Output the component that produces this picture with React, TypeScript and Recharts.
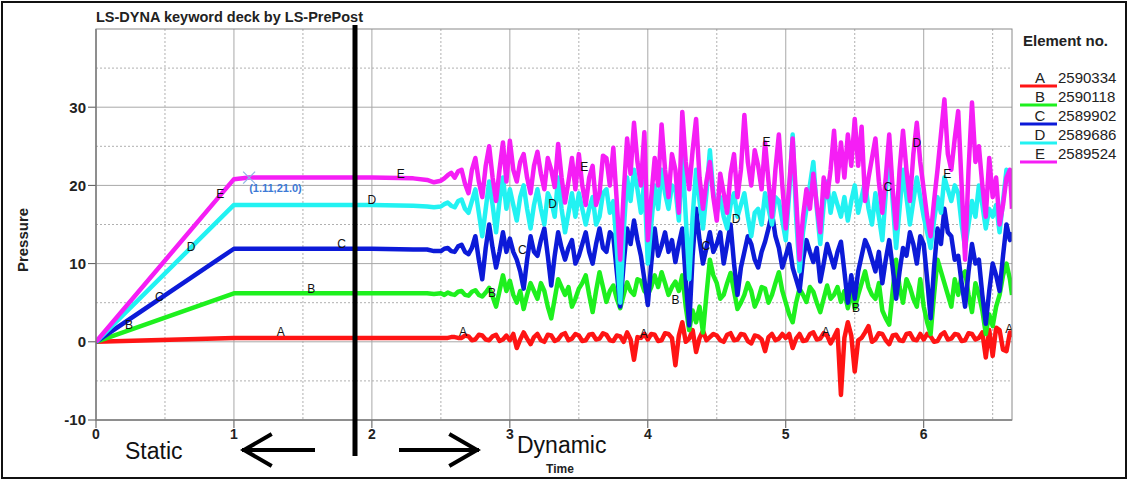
import React from 'react';
import {
  ComposedChart, Line, Scatter, XAxis, YAxis, CartesianGrid, ReferenceDot,
} from 'recharts';

// time axis: static ramp, then the dynamic part read every 0.025
const time = [
  0, 1, 1.11, 2, 2.3, 2.4, 2.45,
  2.5, 2.525, 2.55, 2.575, 2.6, 2.625, 2.65, 2.675, 2.7, 2.725, 2.75, 2.775, 2.8, 2.825, 2.85, 2.875, 2.9, 2.925, 2.95, 2.975,
  3, 3.025, 3.05, 3.075, 3.1, 3.125, 3.15, 3.175, 3.2, 3.225, 3.25, 3.275, 3.3, 3.325, 3.35, 3.375, 3.4, 3.425, 3.45, 3.475,
  3.5, 3.525, 3.55, 3.575, 3.6, 3.625, 3.65, 3.675, 3.7, 3.725, 3.75, 3.775, 3.8, 3.825, 3.85, 3.875, 3.9, 3.925, 3.95, 3.975,
  4, 4.025, 4.05, 4.075, 4.1, 4.125, 4.15, 4.175, 4.2, 4.225, 4.25, 4.275, 4.3, 4.325, 4.35, 4.375, 4.4, 4.425, 4.45, 4.475,
  4.5, 4.525, 4.55, 4.575, 4.6, 4.625, 4.65, 4.675, 4.7, 4.725, 4.75, 4.775, 4.8, 4.825, 4.85, 4.875, 4.9, 4.925, 4.95, 4.975,
  5, 5.025, 5.05, 5.075, 5.1, 5.125, 5.15, 5.175, 5.2, 5.225, 5.25, 5.275, 5.3, 5.325, 5.35, 5.375, 5.4, 5.425, 5.45, 5.475,
  5.5, 5.525, 5.55, 5.575, 5.6, 5.625, 5.65, 5.675, 5.7, 5.725, 5.75, 5.775, 5.8, 5.825, 5.85, 5.875, 5.9, 5.925, 5.95, 5.975,
  6, 6.025, 6.05, 6.075, 6.1, 6.125, 6.15, 6.175, 6.2, 6.225, 6.25, 6.275, 6.3, 6.325, 6.35, 6.375, 6.4, 6.425, 6.45, 6.475,
  6.5, 6.525, 6.55, 6.575, 6.6, 6.625, 6.64,
];

const elemA = [
  0, 0.5, 0.5, 0.5, 0.5, 0.5, 0.5,
  0.5, 0.5, 0.5, 0.6, 0.6, 0.5, 0.5, 0.8, 0.7, 0.2, 0.3, 0.9, 0.8, 0.3, 0.2, 0.7, 0.9, 0.1, 0.3, 0.8,
  0.2, 1.0, -0.8, 0.3, 1.2, 0.4, -0.3, 0.6, 1.0, 0.2, 0.0, 0.9, 0.8, 0.1, 0.3, 0.9, 1.1, 0.2, 0.4, 1.0,
  0.8, 0.1, 0.2, 0.9, 1.0, 0.3, 0.4, 1.1, 0.9, 0.2, 0.1, 0.8, 0.7, 0.0, 1.2, 0.3, -2.3, 0.6, 0.5, 1.0,
  0.3, 1.0, 0.9, 0.1, 0.2, 1.1, 1.0, 0.5, -3.0, 0.8, 2.5, 0.0, 0.4, 1.5, -1.3, 0.5, 1.4, 0.2, 0.6, 1.0,
  0.8, 0.2, 0.0, 0.9, 1.1, 0.2, 0.3, 1.0, 0.9, 0.1, -0.2, 0.8, 0.7, 0.3, -1.2, 0.6, 1.0, 0.2, 0.4, 1.0,
  0.5, 1.0, -0.8, 0.4, 1.0, 0.1, 0.2, 1.0, 1.2, 0.3, 0.4, 1.1, 0.8, -0.2, 0.6, 1.5, -6.8, 0.5, 2.5, 0.8,
  -3.8, 0.2, 0.5, 1.2, 2.0, 0.0, 0.3, 1.1, 1.0, 0.2, -0.3, 0.8, 0.9, 0.2, 0.1, 1.0, 1.1, 0.3, 0.2, 1.0,
  0.3, 1.0, 0.7, 0.0, 0.1, 0.9, 1.2, 0.3, 0.4, 1.0, 0.9, 0.1, 0.2, 1.1, 1.0, 0.3, 0.5, 1.2, -2.0, 1.5,
  -1.8, 1.8, 1.5, -1.0, -1.2, 1.2, 0.6,
];

const elemB = [
  0, 6.2, 6.2, 6.2, 6.2, 6.2, 6.1,
  6.2, 6.0, 6.3, 6.1, 6.0, 6.4, 6.5, 6.0, 5.9, 6.4, 6.6, 6.0, 5.8, 6.3, 6.9, 5.8, 4.5, 6.5, 8.5, 6.5,
  7.8, 6.0, 5.0, 6.5, 4.2, 6.0, 7.5, 6.5, 5.5, 7.5, 6.5, 4.5, 3.0, 5.5, 8.0, 7.0, 6.0, 7.0, 4.5, 5.5,
  6.8, 7.5, 8.5, 6.0, 3.8, 6.5, 8.9, 7.0, 5.1, 6.5, 7.2, 5.5, 4.3, 6.0, 7.6, 6.5, 6.0, 8.0, 7.8, 6.5,
  6.0, 7.0, 8.5, 7.0, 8.9, 7.5, 6.0, 7.0, 7.7, 6.5, 8.5, 4.5, 1.5, 4.0, 2.5, 4.5, 1.2, 6.0, 10.5, 8.5,
  7.5, 5.5, 6.0, 7.5, 8.8, 6.5, 4.2, 5.0, 6.0, 7.5, 6.5, 4.5, 5.5, 7.0, 6.8, 5.0, 6.0, 7.5, 8.9, 6.5,
  5.0, 3.5, 2.5, 5.0, 6.8, 6.0, 5.1, 7.0, 6.4, 5.0, 3.8, 5.5, 7.2, 5.5, 6.0, 7.0, 5.1, 6.5, 4.3, 6.5,
  4.3, 6.0, 7.5, 9.0, 7.0, 6.0, 5.5, 7.5, 4.0, 3.0, 2.2, 6.5, 10.5, 7.0, 5.0, 8.0, 7.0, 5.5, 4.5, 8.0,
  4.5, 2.5, 1.0, 6.0, 10.5, 9.0, 7.5, 6.0, 4.5, 8.0, 6.0, 8.5, 9.0, 6.0, 3.8, 7.5, 6.0, 4.0, 1.0, 3.5,
  2.0, 4.5, 6.0, 8.5, 10.0, 8.0, 6.0,
];

const elemC = [
  0, 11.9, 11.9, 11.9, 11.8, 11.8, 11.6,
  11.6, 11.9, 12.0, 11.6, 11.5, 12.2, 12.4, 11.5, 11.2, 12.0, 13.5, 10.5, 8.0, 12.0, 15.0, 12.0, 9.5, 11.5, 14.0, 11.5,
  13.2, 11.5, 10.5, 9.0, 6.8, 10.5, 13.5, 11.5, 11.0, 13.0, 14.5, 11.0, 7.2, 11.0, 14.0, 12.0, 10.5, 12.0, 13.0, 10.0,
  11.0, 12.5, 14.0, 11.5, 10.0, 12.5, 14.5, 12.0, 11.5, 14.0, 13.5, 9.0, 4.5, 10.0, 14.5, 12.5, 15.5, 13.0, 11.0, 8.0,
  4.7, 10.0, 14.5, 11.0, 12.3, 14.0, 11.5, 13.0, 10.2, 12.5, 14.5, 8.0, 2.1, 11.0, 17.0, 13.0, 10.0, 12.0, 14.0, 11.5,
  12.5, 14.0, 10.0, 12.5, 15.0, 10.0, 6.0, 9.5, 11.5, 13.5, 12.5, 10.5, 9.5, 11.5, 12.8, 14.5, 16.5, 13.5, 12.0, 9.5,
  11.0, 12.5, 9.5, 8.0, 6.5, 10.5, 13.0, 11.5, 10.2, 12.0, 7.7, 10.0, 12.5, 11.0, 9.5, 11.5, 12.8, 9.0, 5.0, 8.5,
  5.5, 9.0, 11.0, 13.0, 12.0, 10.5, 9.0, 11.5, 7.5, 10.5, 13.0, 9.5, 5.5, 9.0, 12.0, 11.0, 14.0, 12.5, 10.0, 13.5,
  12.5, 8.0, 3.0, 9.5, 14.5, 12.5, 17.0, 14.0, 13.5, 10.5, 11.0, 7.5, 4.5, 9.0, 12.5, 10.0, 10.5, 6.0, 2.3, 6.5,
  10.0, 8.5, 6.5, 11.0, 15.0, 13.0, 14.0,
];

const elemD = [
  0, 17.5, 17.5, 17.5, 17.4, 17.3, 17.2,
  17.3, 17.6, 17.8, 17.4, 17.2, 18.0, 18.2, 17.0, 16.5, 18.0, 19.5, 16.5, 13.5, 17.0, 20.5, 17.5, 14.0, 18.0, 21.0, 17.0,
  19.5, 17.5, 15.5, 18.5, 20.0, 17.0, 14.5, 17.5, 19.5, 17.0, 15.0, 19.0, 18.0, 16.0, 21.0, 17.0, 14.0, 16.5, 19.0, 16.0,
  19.0, 17.0, 15.0, 17.0, 18.5, 15.0, 16.0, 19.0, 19.5, 16.5, 18.0, 12.0, 5.0, 14.0, 21.0, 18.0, 22.0, 19.5, 16.5, 20.5,
  10.0, 15.0, 20.0, 17.0, 22.0, 19.0, 17.0, 20.0, 19.5, 15.5, 24.0, 16.0, 8.0, 16.0, 22.0, 18.0, 14.5, 19.0, 24.5, 19.0,
  16.5, 18.5, 16.0, 14.5, 17.5, 19.0, 16.0, 17.5, 19.0, 16.0, 13.5, 16.5, 17.0, 15.0, 19.0, 17.0, 15.0, 18.5, 18.0, 15.5,
  13.0, 19.0, 26.5, 16.0, 9.0, 14.0, 17.0, 20.0, 23.0, 17.0, 12.5, 17.5, 20.5, 16.5, 19.0, 17.5, 16.0, 18.5, 15.5, 18.0,
  20.0, 16.5, 18.5, 20.5, 17.0, 15.0, 19.0, 16.0, 13.0, 19.0, 25.5, 18.0, 12.0, 17.0, 22.0, 18.5, 15.0, 18.0, 21.0, 18.5,
  16.0, 14.0, 12.0, 15.5, 18.5, 16.5, 21.0, 19.5, 18.0, 20.0, 19.0, 15.0, 12.0, 15.0, 18.0, 16.0, 20.0, 17.5, 14.5, 17.0,
  16.0, 17.5, 14.0, 18.0, 22.0, 21.0, 19.0,
];

const elemE = [
  0, 20.8, 21.0, 21.0, 20.9, 20.7, 20.4,
  20.6, 20.9, 21.3, 21.6, 21.0, 21.8, 22.0, 20.2, 19.0, 22.0, 23.5, 20.5, 18.5, 22.5, 25.0, 21.0, 18.0, 22.0, 25.5, 20.5,
  25.7, 22.0, 20.5, 23.0, 24.0, 21.0, 19.0, 22.5, 24.3, 21.5, 19.5, 23.5, 22.0, 19.8, 25.3, 21.0, 17.8, 20.5, 23.5, 19.5,
  24.0, 20.0, 17.5, 21.0, 22.5, 17.5, 19.0, 23.8, 23.5, 20.0, 24.8, 18.0, 10.5, 19.0, 26.0, 21.5, 28.0, 23.0, 20.0, 26.8,
  13.0, 18.5, 23.5, 20.0, 27.8, 22.0, 18.5, 24.0, 22.0, 16.5, 29.4, 23.0, 19.5, 24.5, 28.5, 21.0, 17.0, 20.5, 23.0, 18.5,
  15.5, 21.5, 19.0, 16.5, 21.5, 24.0, 18.5, 22.0, 29.0, 23.0, 20.0, 24.5, 22.5, 19.5, 25.5, 20.5, 16.0, 22.0, 26.5, 20.0,
  14.5, 20.0, 26.0, 18.5, 10.5, 16.0, 19.5, 17.0, 21.5, 17.5, 14.0, 21.0, 18.5, 22.0, 27.0, 20.5, 25.5, 21.0, 26.5, 22.5,
  28.5, 22.5, 27.5, 18.0, 21.0, 23.5, 26.0, 20.5, 16.5, 21.0, 26.5, 19.5, 14.5, 22.0, 27.0, 22.0, 18.0, 24.0, 28.0, 23.0,
  19.5, 16.0, 13.5, 18.0, 22.0, 26.5, 31.0, 24.0, 22.0, 26.0, 29.5, 20.0, 10.5, 22.0, 30.6, 23.0, 25.0, 20.0, 16.0, 23.5,
  18.5, 21.0, 15.0, 17.5, 21.0, 22.0, 17.0,
];

const seriesKeys = ['A', 'B', 'C', 'D', 'E'];
const seriesIds = ['2590334', '2590118', '2589902', '2589686', '2589524'];
const seriesColors = ['#ff1414', '#1ef01e', '#0c1ad8', '#22f2f2', '#f51ef5'];

// curve letters written along the lines
const markT = [0.24, 0.46, 0.69, 0.9, 1.34, 1.56, 1.78, 2.0, 2.21, 2.66, 2.87, 3.09, 3.31, 3.54, 3.97, 4.2, 4.42, 4.64, 4.86, 5.29, 5.51, 5.74, 5.95, 6.17, 6.62];
const markV = [2.1, 5.7, 12.1, 18.9, 1.3, 6.8, 12.5, 18.1, 21.5, 1.3, 6.2, 11.7, 17.6, 22.4, 1.0, 5.4, 12.2, 15.7, 25.5, 1.3, 4.3, 19.8, 25.4, 21.5, 1.6];
const markS = ['B', 'C', 'D', 'E', 'A', 'B', 'C', 'D', 'E', 'A', 'B', 'C', 'D', 'E', 'A', 'B', 'C', 'D', 'E', 'A', 'B', 'C', 'D', 'E', 'A'];

const xTicks = [0, 1, 2, 3, 4, 5, 6];
const xMinor = [0.5, 1.5, 2.5, 3.5, 4.5, 5.5, 6.5];
const yTicks = [-10, 0, 10, 20, 30];
const yMinor = [-5, 5, 15, 25, 35];

const data = time.map((t, i) => ({
  t,
  A: elemA[i],
  B: elemB[i],
  C: elemC[i],
  D: elemD[i],
  E: elemE[i],
}));
const marks = markT.map((t, i) => ({ t, v: markV[i], s: markS[i] }));

const FONT = 'Arial, "Liberation Sans", sans-serif';

const LetterShape = (props: any) => (
  <text x={props.cx} y={props.cy + 4} textAnchor="middle" fontSize={12} fontFamily={FONT} fill="#111">
    {props.payload.s}
  </text>
);

const PickShape = (props: any) => {
  const { cx, cy } = props;
  return (
    <g>
      <line x1={cx - 6} y1={cy - 6} x2={cx + 6} y2={cy + 6} stroke="#8fb4e6" strokeWidth={1.2} />
      <line x1={cx - 6} y1={cy + 6} x2={cx + 6} y2={cy - 6} stroke="#8fb4e6" strokeWidth={1.2} />
      <text x={cx} y={cy + 14} fontSize={11} fontWeight="bold" fontFamily={FONT} fill="#3d7ad6">
        (1.11,21.0)
      </text>
    </g>
  );
};

export default function App() {
  return (
    <div style={{ position: 'relative', width: 1129, height: 481, background: '#fff', fontFamily: FONT }}>
      <style>{'body{margin:0}'}</style>
      <ComposedChart width={1129} height={481} data={data} margin={{ top: 29, right: 117, bottom: 31, left: 56 }}>
        <CartesianGrid stroke="#b0b0b0" strokeDasharray="2 2" verticalValues={xMinor} horizontalValues={yMinor} />
        <CartesianGrid stroke="#a8a8a8" verticalValues={xTicks} horizontalValues={yTicks} />
        <XAxis
          type="number"
          dataKey="t"
          domain={[0, 6.64]}
          ticks={xTicks}
          height={30}
          tickSize={8}
          tickMargin={1}
          stroke="#555"
          tick={{ fontSize: 14, fontWeight: 'bold', fill: '#222', fontFamily: FONT }}
          allowDataOverflow
        />
        <YAxis
          type="number"
          domain={[-10, 40]}
          ticks={yTicks}
          width={40}
          tickSize={8}
          tickMargin={2}
          stroke="#555"
          tick={{ fontSize: 15, fontWeight: 'bold', fill: '#222', fontFamily: FONT }}
          allowDataOverflow
        />
        {seriesKeys.map((k, i) => (
          <Line
            key={k}
            type="linear"
            dataKey={k}
            stroke={seriesColors[i]}
            strokeWidth={4.5}
            strokeLinejoin="round"
            dot={false}
            isAnimationActive={false}
          />
        ))}
        <Scatter data={marks} dataKey="v" shape={LetterShape} isAnimationActive={false} />
        <ReferenceDot x={1.11} y={21} shape={PickShape} />
      </ComposedChart>

      <svg width={1129} height={481} style={{ position: 'absolute', left: 0, top: 0, pointerEvents: 'none' }}>
        <rect x={2} y={2} width={1124} height={476} fill="none" stroke="#111" strokeWidth={2} />
        <rect x={96} y={29} width={916} height={391} fill="none" stroke="#8a8a8a" strokeWidth={1} />
        <text x={96} y={22} fontSize={14.5} fontWeight="bold" fill="#222" fontFamily={FONT}>
          LS-DYNA keyword deck by LS-PrePost
        </text>
        <text x={28} y={240} fontSize={15} fontWeight="bold" fill="#222" fontFamily={FONT} textAnchor="middle" transform="rotate(-90 28 240)">
          Pressure
        </text>
        <text x={560} y={473} fontSize={12} fontWeight="bold" fill="#222" fontFamily={FONT} textAnchor="middle">
          Time
        </text>
        <line x1={355} y1={25} x2={355} y2={456} stroke="#000" strokeWidth={5} />
        <text x={125} y={459} fontSize={23} fill="#111" fontFamily={FONT}>Static</text>
        <text x={517} y={453} fontSize={23} fill="#111" fontFamily={FONT}>Dynamic</text>
        <g stroke="#000" strokeWidth={4} fill="none" strokeLinecap="square">
          <line x1={244} y1={450} x2={313} y2={450} />
          <polyline points="270,435 244,450 270,465" />
          <line x1={401} y1={450} x2={477} y2={450} />
          <polyline points="451,435 477,450 451,465" />
        </g>
        <text x={1023} y={46} fontSize={15} fontWeight="bold" fill="#222" fontFamily={FONT}>Element no.</text>
        {seriesKeys.map((k, i) => (
          <g key={k}>
            <text x={1040} y={83 + i * 19} fontSize={15} fill="#222" fontFamily={FONT} textAnchor="middle">{k}</text>
            <text x={1058} y={83 + i * 19} fontSize={15} fill="#222" fontFamily={FONT}>{seriesIds[i]}</text>
            <line x1={1020} y1={86 + i * 19} x2={1057} y2={86 + i * 19} stroke={seriesColors[i]} strokeWidth={3} />
          </g>
        ))}
      </svg>
    </div>
  );
}
